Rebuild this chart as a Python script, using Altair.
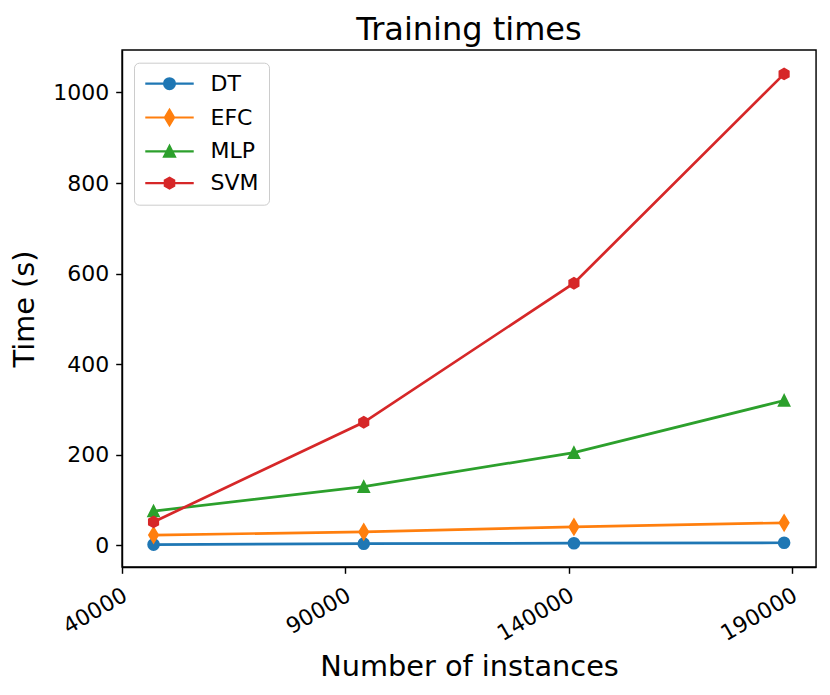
import altair as alt
import pandas as pd

# ---- data ----
instances = [47065, 94130, 141195, 188260]
series = ["DT", "EFC", "MLP", "SVM"]
dt_times = [2, 4, 5, 6]
efc_times = [23, 30, 41, 50]
mlp_times = [76, 130, 205, 320]
svm_times = [52, 272, 579, 1041]
x_ticks = [40000, 90000, 140000, 190000]
y_ticks = [0, 200, 400, 600, 800, 1000]

colors = ["#1f77b4", "#ff7f0e", "#2ca02c", "#d62728"]
FONT = "DejaVu Sans"

# marker shapes (units of half marker size)
marker_paths = {
    "DT": "circle",
    "EFC": "M0,-1.414L0.849,0L0,1.414L-0.849,0Z",
    "MLP": "M0,-1L-1,1L1,1Z",
    "SVM": "M0,-1L0.866,-0.5L0.866,0.5L0,1L-0.866,0.5L-0.866,-0.5Z",
}
# legend symbols: horizontal line segment + marker (same units)
L = 4.48
legend_paths = [
    f"M-{L},0L{L},0M-1,0A1,1 0 1,0 1,0A1,1 0 1,0 -1,0Z",
    f"M-{L},0L{L},0M0,-1.414L0.849,0L0,1.414L-0.849,0Z",
    f"M-{L},0L{L},0M0,-1L-1,1L1,1Z",
    f"M-{L},0L{L},0M0,-1L0.866,-0.5L0.866,0.5L0,1L-0.866,0.5L-0.866,-0.5Z",
]

values = {"DT": dt_times, "EFC": efc_times, "MLP": mlp_times, "SVM": svm_times}
rows = []
for s in series:
    for xi, yi in zip(instances, values[s]):
        rows.append({"instances": xi, "time": yi, "model": s})
df = pd.DataFrame(rows)

x_enc = alt.X(
    "instances:Q",
    scale=alt.Scale(domain=[40000, 195400], nice=False, zero=False),
    axis=alt.Axis(
        title="Number of instances",
        values=x_ticks,
        format="d",
        grid=False,
        labelAngle=330,
        labelAlign="right",
        labelBaseline="top",
        labelPadding=11,
        labelOffset=-2,
        labelFlush=False,
        labelOverlap=False,
        titleY=108.5,
        titleBaseline="alphabetic",
    ),
)
y_enc = alt.Y(
    "time:Q",
    scale=alt.Scale(domain=[-47.5, 1093.8], nice=False, zero=False),
    axis=alt.Axis(
        title="Time (s)",
        values=y_ticks,
        format="d",
        grid=False,
        labelPadding=7,
        labelFlush=False,
        labelOverlap=False,
        titleX=-89,
        titleAngle=270,
        titleBaseline="alphabetic",
    ),
)

layers = []
base = alt.Chart(df)
for s, c in zip(series, colors):
    sub = base.transform_filter(alt.datum.model == s)
    layers.append(
        sub.mark_line(color=c, strokeWidth=2.7).encode(x=x_enc, y=y_enc)
    )
    layers.append(
        sub.mark_point(
            shape=marker_paths[s], filled=True, fill=c, stroke=c,
            strokeWidth=1.8, size=117, opacity=1,
        ).encode(x=x_enc, y=y_enc)
    )

leg = alt.Legend(
    title=None,
    orient="none",
    legendX=12,
    legendY=12.7,
    symbolSize=117,
    symbolStrokeWidth=2.2,
    symbolOffset=14.5,
    symbolOpacity=1,
    labelFontSize=22,
    labelFont=FONT,
    labelColor="black",
    labelOffset=30,
    rowPadding=9.8,
    padding=10,
    strokeColor="#cccccc",
    fillColor="rgba(255,255,255,0.8)",
    cornerRadius=5,
)
legend_layer = base.mark_point(filled=True, size=0, strokeWidth=0, opacity=1).encode(
    x=x_enc,
    y=y_enc,
    fill=alt.Fill("model:N", scale=alt.Scale(domain=series, range=colors), legend=leg),
    stroke=alt.Stroke("model:N", scale=alt.Scale(domain=series, range=colors), legend=leg),
    shape=alt.Shape("model:N", scale=alt.Scale(domain=series, range=legend_paths), legend=leg),
)
layers.append(legend_layer)

chart = (
    alt.layer(*layers)
    .properties(
        width=694,
        height=517,
        title=alt.TitleParams(
            "Training times", fontSize=32, font=FONT, fontWeight="normal",
            anchor="middle", baseline="bottom", offset=6, dy=35, color="black",
            frame="group",
        ),
        autosize=alt.AutoSizeParams(type="none"),
        padding={"left": 114, "top": 42, "right": 6, "bottom": 116},
    )
    .configure(font=FONT)
    .configure_view(stroke="black", strokeWidth=1.44)
    .configure_axis(
        labelFont=FONT,
        labelFontSize=22,
        labelColor="black",
        titleFont=FONT,
        titleFontSize=28.8,
        titleFontWeight="normal",
        titleColor="black",
        domainColor="black",
        domainWidth=1.44,
        tickColor="black",
        tickWidth=1.44,
        tickSize=6.3,
    )
)

chart.save("out.html", embed_options={"renderer": "svg", "actions": False})
